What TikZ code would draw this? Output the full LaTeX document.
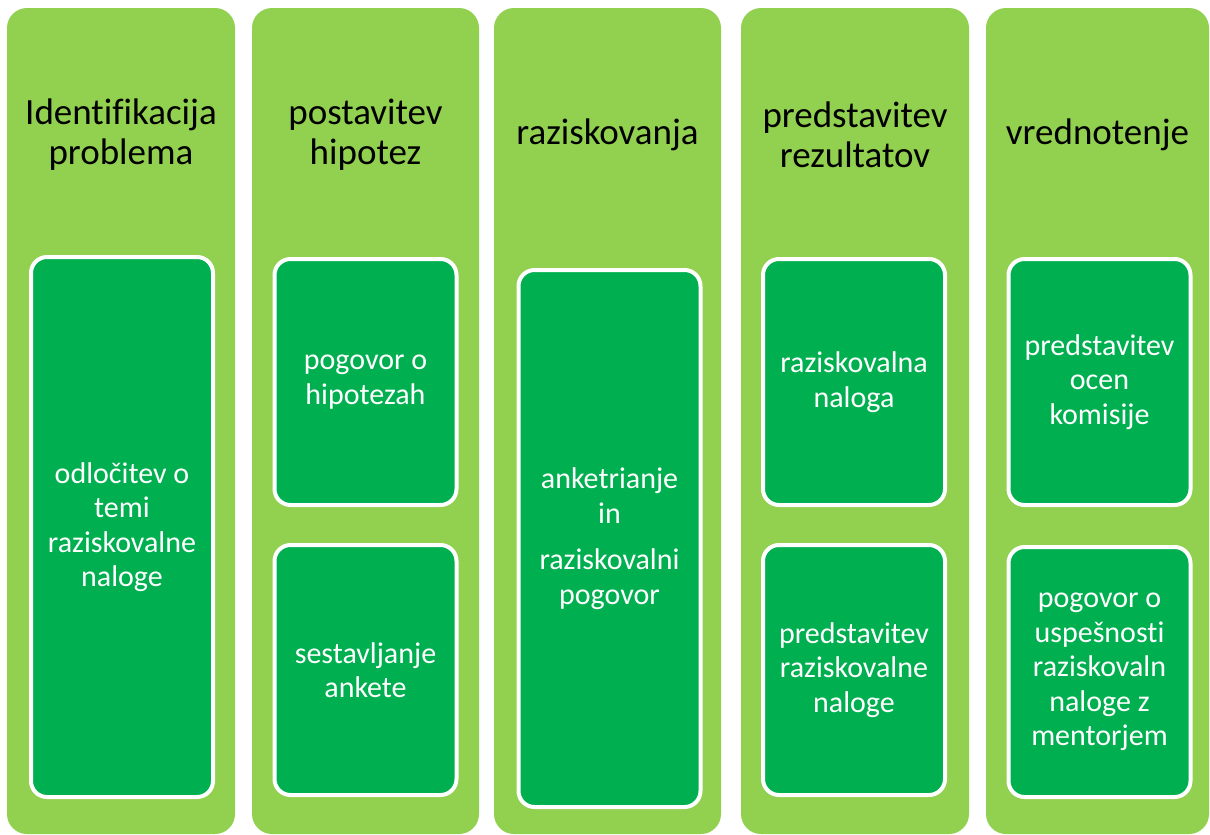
\documentclass[tikz,border=0pt]{standalone}
\usepackage{fontspec}
\setmainfont{Carlito}[Ligatures=NoCommon]
\usetikzlibrary{positioning}

\definecolor{phasegreen}{HTML}{92D050}
\definecolor{taskgreen}{HTML}{00B050}

\tikzset{
  phase/.style={fill=phasegreen, rounded corners=20pt, minimum width=227pt,
    minimum height=826pt, inner sep=0pt},
  phasetitle/.style={align=center, text=black,
    font=\fontsize{37}{40}\selectfont},
  task/.style={fill=taskgreen, draw=white, line width=4pt, rounded corners=16pt,
    minimum width=182pt, align=center, inner sep=0pt,
    text=white, font=\fontsize{30}{34.5}\selectfont},
}

\begin{document}
\begin{tikzpicture}[x=1pt,y=-1pt]
  \useasboundingbox[fill=white] (0,0) rectangle (1210,835);

  % five phases
  \node[phase, minimum width=228pt] (c1) at (121,421) {};
  \node[phase] (c2) at (365.5,421) {};
  \node[phase] (c3) at (607.5,421) {};
  \node[phase, minimum width=228pt] (c4) at (855,421) {};
  \node[phase, minimum width=223pt] (c5) at (1097.5,421) {};

  % phase titles
  \node[phasetitle] (t1) at (121,135) {Identifikacija\\problema};
  \node[phasetitle] (t2) at (365.5,135) {postavitev\\hipotez};
  \node[phasetitle] (t3) at (607.5,135) {raziskovanja};
  \node[phasetitle] (t4) at (855,135) {predstavitev\\rezultatov};
  \node[phasetitle] (t5) at (1097.5,135) {vrednotenje};

  % tasks of each phase
  \node[task, minimum height=540pt] (k1) at (122,527)
    {odločitev o\\temi\\raziskovalne\\naloge};

  \node[task, minimum height=246pt] (k2a) at (365.5,382)
    {pogovor o\\hipotezah};
  \node[task, minimum height=250pt] (k2b) at (365.5,670)
    {sestavljanje\\ankete};

  \node[task, minimum height=537pt] (k3) at (609.5,538.5)
    {anketrianje\\in\\[12pt]raziskovalni\\pogovor};

  \node[task, minimum height=246pt] (k4a) at (854,382)
    {raziskovalna\\naloga};
  \node[task, minimum height=250pt] (k4b) at (854,670)
    {predstavitev\\raziskovalne\\naloge};

  \node[task, minimum height=246pt] (k5a) at (1099.5,382)
    {predstavitev\\ocen\\komisije};
  \node[task, minimum height=250pt] (k5b) at (1099.5,672)
    {pogovor o\\uspešnosti\\raziskovaln\\naloge z\\mentorjem};
\end{tikzpicture}
\end{document}
